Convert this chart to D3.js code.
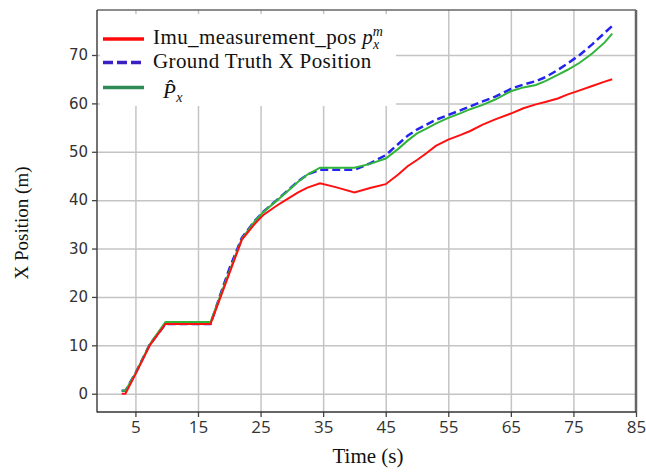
<!DOCTYPE html>
<html>
<head>
<meta charset="utf-8">
<style>
    body { margin: 0; background: #fff; }
    .grid line { stroke: #c4c4c4; stroke-width: 1.5; }
    .grid path { display: none; }
    .xaxis text { font-family: "Open Sans", sans-serif; font-size: 17px; fill: #333; }
    .yaxis text { font-family: "DejaVu Sans", sans-serif; font-size: 15px; fill: #333; }
    .xaxis line, .yaxis line { stroke: #444; stroke-width: 1.3; }
    .xaxis path, .yaxis path { display: none; }
    .ttl { font-family: "Liberation Serif", serif; fill: #111; }
    .leg { font-family: "Liberation Serif", serif; font-size: 21px; letter-spacing: 0.4px; fill: #111; }
</style>
</head>
<body>
<script src="https://cdn.jsdelivr.net/npm/d3@7"></script>
<script>
// time stamps (s), shared by all three series
var time = [2.8, 3.4, 5, 7.3, 9.8, 12, 14, 17, 18.5, 20, 22, 24, 25.5, 27.5, 29, 31, 32.5, 34.5, 37, 40,
            42.5, 45, 47, 48.5, 50, 51.5, 53, 55, 57, 58.5, 60.5, 62.5, 65, 67, 69, 70.5, 72.5, 74, 76, 78, 80, 81.2];

// Imu_measurement_pos p_x^m
var imuPos = [0, 0, 4.0, 10, 14.4, 14.4, 14.4, 14.4, 19.6, 24.8, 31.8, 35, 37, 38.8, 40, 41.6, 42.6, 43.5, 42.7, 41.6,
              42.5, 43.3, 45.3, 47, 48.3, 49.7, 51.2, 52.5, 53.5, 54.3, 55.6, 56.7, 57.9, 59, 59.8, 60.3, 61, 61.8, 62.7, 63.6, 64.5, 65];

// Ground Truth X Position
var truthPos = [0.6, 0.6, 4.2, 10.2, 14.4, 14.4, 14.4, 14.4, 20.2, 25.8, 32.2, 35.6, 37.7, 39.9, 41.6, 43.9, 45.3, 46.3, 46.3, 46.3,
                47.6, 49.3, 51.6, 53.3, 54.6, 55.6, 56.6, 57.6, 58.6, 59.4, 60.4, 61.4, 63, 63.9, 64.6, 65.4, 66.9, 68.2, 70, 72.2, 74.6, 76];

// estimated P_x
var estPos = [0.6, 0.6, 4.2, 10.2, 14.8, 14.8, 14.8, 14.8, 20, 25.2, 32, 35.5, 37.6, 39.8, 41.5, 43.8, 45.3, 46.7, 46.7, 46.7,
              47.5, 48.6, 50.6, 52.3, 53.8, 54.8, 55.8, 57, 58, 58.8, 59.7, 60.8, 62.5, 63.3, 63.8, 64.6, 65.9, 66.9, 68.4, 70.3, 72.6, 74.4];

var xTicks = [5, 15, 25, 35, 45, 55, 65, 75, 85];
var yTicks = [0, 10, 20, 30, 40, 50, 60, 70];

var W = 646, H = 472;
var margin = {top: 10, left: 97, right: 10, bottom: 60};

var svg = d3.select("body").append("svg")
    .attr("width", W)
    .attr("height", H);

var x = d3.scaleLinear().domain([-1.14, 85]).range([margin.left, 636]);
var y = d3.scaleLinear().domain([-3.78, 79.3]).range([412, margin.top]);

// grid
svg.append("g")
    .attr("class", "grid")
    .attr("transform", "translate(0,412)")
    .call(d3.axisBottom(x).tickValues(xTicks.slice(0, -1)).tickSize(-(412 - margin.top)).tickFormat(""));
svg.append("g")
    .attr("class", "grid")
    .attr("transform", "translate(" + margin.left + ",0)")
    .call(d3.axisLeft(y).tickValues(yTicks).tickSize(-(636 - margin.left)).tickFormat(""));

// axes
svg.append("g")
    .attr("class", "xaxis")
    .attr("transform", "translate(0,412)")
    .call(d3.axisBottom(x).tickValues(xTicks).tickSize(5).tickPadding(4));
svg.append("g")
    .attr("class", "yaxis")
    .attr("transform", "translate(" + margin.left + ",0)")
    .call(d3.axisLeft(y).tickValues(yTicks).tickSize(5).tickPadding(4));

// frame
svg.append("line").attr("x1", margin.left).attr("x2", 636).attr("y1", margin.top).attr("y2", margin.top)
    .attr("stroke", "#666").attr("stroke-width", 1.5);
svg.append("line").attr("x1", 636).attr("x2", 636).attr("y1", margin.top).attr("y2", 412)
    .attr("stroke", "#666").attr("stroke-width", 2.5);
svg.append("line").attr("x1", margin.left).attr("x2", margin.left).attr("y1", margin.top).attr("y2", 412.5)
    .attr("stroke", "#444").attr("stroke-width", 1.5);
svg.append("line").attr("x1", margin.left).attr("x2", 636).attr("y1", 412).attr("y2", 412)
    .attr("stroke", "#333").attr("stroke-width", 1.5);

// series
function series(vals) {
    return d3.line()
        .x(function(d, i) { return x(time[i]); })
        .y(function(d) { return y(d); })(vals);
}

svg.append("path").attr("d", series(truthPos))
    .attr("fill", "none").attr("stroke", "#2424f0").attr("stroke-width", 2.5)
    .attr("stroke-dasharray", "8,4");
svg.append("path").attr("d", series(estPos))
    .attr("fill", "none").attr("stroke", "#30b43a").attr("stroke-width", 2);
svg.append("path").attr("d", series(imuPos))
    .attr("fill", "none").attr("stroke", "#ff1010").attr("stroke-width", 2);

// titles
svg.append("text").attr("class", "ttl")
    .attr("x", 368).attr("y", 463)
    .attr("text-anchor", "middle").attr("font-size", 21)
    .text("Time (s)");
svg.append("text").attr("class", "ttl")
    .attr("transform", "translate(28,223) rotate(-90)")
    .attr("text-anchor", "middle").attr("font-size", 19)
    .text("X Position (m)");

// legend
var leg = svg.append("g");
leg.append("rect").attr("x", 100).attr("y", 14).attr("width", 296).attr("height", 92).attr("fill", "#fff");
leg.append("line").attr("x1", 103).attr("x2", 144).attr("y1", 39).attr("y2", 39)
    .attr("stroke", "#ff0a0a").attr("stroke-width", 3.5);
leg.append("line").attr("x1", 103).attr("x2", 144).attr("y1", 62.5).attr("y2", 62.5)
    .attr("stroke", "#3a1fc4").attr("stroke-width", 3.5).attr("stroke-dasharray", "10,4");
leg.append("line").attr("x1", 103).attr("x2", 144).attr("y1", 87.5).attr("y2", 87.5)
    .attr("stroke", "#2e8b57").attr("stroke-width", 3.5);

var t1 = leg.append("text").attr("class", "leg").attr("x", 153).attr("y", 44);
t1.append("tspan").text("Imu_measurement_pos ");
t1.append("tspan").attr("font-style", "italic").text("p");
t1.append("tspan").attr("font-style", "italic").attr("font-size", 14).attr("dy", 5).text("x");
t1.append("tspan").attr("font-style", "italic").attr("font-size", 14).attr("dx", -7).attr("dy", -13).text("m");

leg.append("text").attr("class", "leg").attr("x", 153).attr("y", 68).text("Ground Truth X Position");

var t3 = leg.append("text").attr("class", "leg").attr("x", 163).attr("y", 98);
t3.append("tspan").attr("font-style", "italic").text("P\u0302");
t3.append("tspan").attr("font-style", "italic").attr("font-size", 14).attr("dy", 4).text("x");
</script>
</body>
</html>
